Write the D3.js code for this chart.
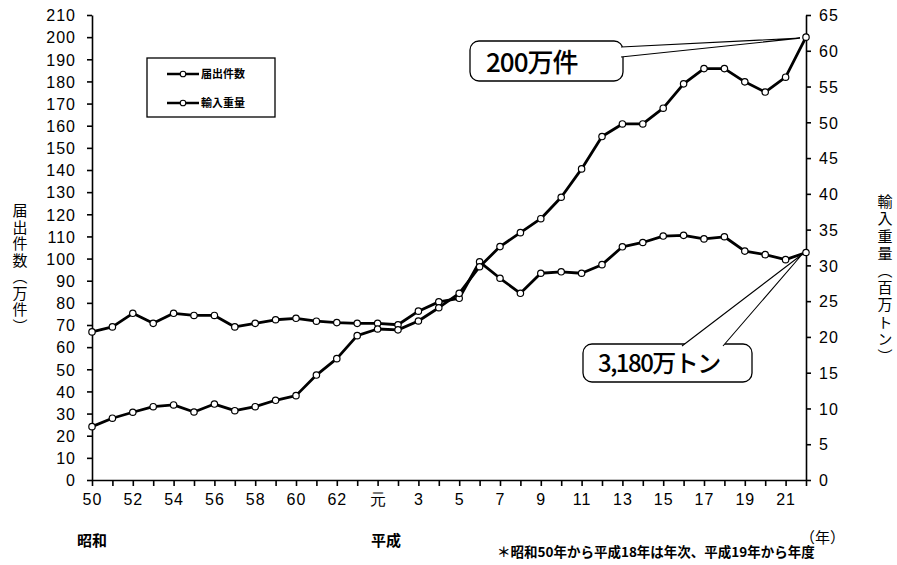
<!DOCTYPE html>
<html>
<head>
<meta charset="utf-8">
<script src="https://cdn.jsdelivr.net/npm/d3@7"></script>
<style>
  body { margin: 0; background: #fff; }
  svg { display: block; }
  .axis path, .axis line { stroke: #000; stroke-width: 1.6; }
  .axis text { font-family: "Liberation Sans", Arial, sans-serif; font-size: 16px; fill: #000; letter-spacing: 1px; }
  .jp { font-family: "Noto Sans CJK JP", sans-serif; fill: #000; }
</style>
</head>
<body>
<svg id="chart" width="897" height="565"></svg>
<script>
// 年 (西暦) と元号表記
var years = [1975, 1976, 1977, 1978, 1979, 1980, 1981, 1982, 1983, 1984, 1985, 1986,
    1987, 1988, 1989, 1990, 1991, 1992, 1993, 1994, 1995, 1996, 1997, 1998, 1999,
    2000, 2001, 2002, 2003, 2004, 2005, 2006, 2007, 2008, 2009, 2010];
var eraLabels = ["50", "51", "52", "53", "54", "55", "56", "57", "58", "59", "60", "61",
    "62", "63", "元", "2", "3", "4", "5", "6", "7", "8", "9", "10", "11",
    "12", "13", "14", "15", "16", "17", "18", "19", "20", "21", "22"];

// 届出件数 (万件)
var filings = [24.1, 27.9, 30.6, 33.1, 33.9, 30.7, 34.3, 31.3, 33.1, 36.0, 38.1, 47.4,
    54.8, 65.2, 68.2, 67.8, 71.8, 77.8, 84.3, 96.3, 105.4, 111.7, 118.0, 127.7, 140.5,
    155.1, 160.8, 160.8, 167.9, 178.9, 185.8, 185.8, 179.8, 175.2, 181.9, 200.0];

// 輸入重量 (百万トン)
var imports = [20.7, 21.4, 23.3, 21.9, 23.3, 23.0, 23.0, 21.4, 21.9, 22.4, 22.6, 22.2,
    22.0, 21.9, 21.9, 21.7, 23.6, 24.9, 25.4, 30.5, 28.2, 26.1, 28.9, 29.1, 28.9,
    30.1, 32.6, 33.2, 34.1, 34.2, 33.7, 34.0, 32.0, 31.5, 30.8, 31.8];

var leftTicks = d3.range(0, 211, 10);
var rightTicks = d3.range(0, 66, 5);

var svg = d3.select("#chart");

var x = d3.scaleLinear().domain([1975, 2010]).range([92, 806]);
var yL = d3.scaleLinear().domain([0, 210]).range([480, 15]);
var yR = d3.scaleLinear().domain([0, 65]).range([480, 15]);

// axes
svg.append("g")
    .attr("class", "axis")
    .attr("transform", "translate(0,480)")
    .call(d3.axisBottom(x)
        .tickValues(years)
        .tickSizeInner(6).tickSizeOuter(0).tickPadding(8)
        .tickFormat(function(d, i) { return i % 2 === 0 ? eraLabels[i] : ""; }));

svg.append("g")
    .attr("class", "axis")
    .attr("transform", "translate(92,0)")
    .call(d3.axisLeft(yL).tickValues(leftTicks).tickSizeInner(5).tickSizeOuter(0).tickPadding(11));

svg.append("g")
    .attr("class", "axis")
    .attr("transform", "translate(806,0)")
    .call(d3.axisRight(yR).tickValues(rightTicks).tickSizeInner(5).tickSizeOuter(0).tickPadding(8));

svg.selectAll(".axis .tick text").attr("dy", "0.36em");
svg.select(".axis").selectAll(".tick text").attr("dy", "0.71em");

// series
function drawSeries(values, yScale) {
    var line = d3.line()
        .x(function(d, i) { return x(years[i]); })
        .y(function(d) { return yScale(d); });

    svg.append("path")
        .datum(values)
        .attr("fill", "none")
        .attr("stroke", "#000")
        .attr("stroke-width", 2.8)
        .attr("stroke-linejoin", "round")
        .attr("d", line);

    svg.append("g").selectAll("circle")
        .data(values)
        .enter().append("circle")
        .attr("cx", function(d, i) { return x(years[i]); })
        .attr("cy", function(d) { return yScale(d); })
        .attr("r", 3.2)
        .attr("fill", "#fff")
        .attr("stroke", "#000")
        .attr("stroke-width", 1.2);
}

drawSeries(imports, yR);
drawSeries(filings, yL);

// legend
var legend = svg.append("g");
legend.append("rect")
    .attr("x", 147).attr("y", 58)
    .attr("width", 128).attr("height", 59)
    .attr("fill", "#fff").attr("stroke", "#000").attr("stroke-width", 1.3);

["届出件数", "輸入重量"].forEach(function(name, i) {
    var ly = 74 + i * 29;
    legend.append("line")
        .attr("x1", 167).attr("x2", 199).attr("y1", ly).attr("y2", ly)
        .attr("stroke", "#000").attr("stroke-width", 2.5);
    legend.append("circle")
        .attr("cx", 183).attr("cy", ly).attr("r", 2.8)
        .attr("fill", "#fff").attr("stroke", "#000").attr("stroke-width", 1.1);
    legend.append("text")
        .attr("class", "jp")
        .attr("x", 201).attr("y", ly + 4)
        .attr("font-size", 11).attr("font-weight", "bold")
        .text(name);
});

// callouts
function callout(box, tailA, tailB, tip, label, fs, tx, ty, ls) {
    var g = svg.append("g");
    g.append("rect")
        .attr("x", box[0]).attr("y", box[1])
        .attr("width", box[2]).attr("height", box[3])
        .attr("rx", 9)
        .attr("fill", "#fff").attr("stroke", "#000").attr("stroke-width", 1.3);
    g.append("path")
        .attr("d", "M" + tailA + "L" + tip + "L" + tailB)
        .attr("fill", "#fff").attr("stroke", "#000").attr("stroke-width", 1.1);
    g.append("text")
        .attr("class", "jp")
        .attr("x", tx).attr("y", ty)
        .attr("font-size", fs)
        .attr("font-weight", 500)
        .attr("letter-spacing", ls)
        .text(label);
}

var last = years.length - 1;
callout([470, 41, 153, 40], [621, 47], [621, 57],
    [x(years[last]) - 6, yL(filings[last]) + 1], "200万件", 26, 486, 72, -1);
callout([583, 344, 169, 38], [682, 346], [723, 346],
    [x(years[last]) - 4, yR(imports[last]) + 2], "3,180万トン", 24, 598, 372, -1.5);

// axis titles
svg.append("text")
    .attr("class", "jp")
    .attr("x", 20).attr("y", 203)
    .attr("font-size", 15)
    .attr("letter-spacing", 1.5)
    .style("writing-mode", "vertical-rl")
    .text("届出件数（万件）");

svg.append("text")
    .attr("class", "jp")
    .attr("x", 885).attr("y", 194)
    .attr("font-size", 15)
    .attr("letter-spacing", 2.2)
    .style("writing-mode", "vertical-rl")
    .text("輸入重量（百万トン）");

// era labels and notes
svg.append("text").attr("class", "jp")
    .attr("x", 92).attr("y", 546).attr("text-anchor", "middle")
    .attr("font-size", 15).attr("font-weight", "bold").text("昭和");
svg.append("text").attr("class", "jp")
    .attr("x", 386).attr("y", 546).attr("text-anchor", "middle")
    .attr("font-size", 15).attr("font-weight", "bold").text("平成");
svg.append("text").attr("class", "jp")
    .attr("x", 800).attr("y", 543)
    .attr("font-size", 15).text("（年）");
svg.append("text").attr("class", "jp")
    .attr("x", 497).attr("y", 557)
    .attr("font-size", 13.5).attr("font-weight", "bold")
    .text("＊昭和50年から平成18年は年次、平成19年から年度");
</script>
</body>
</html>
